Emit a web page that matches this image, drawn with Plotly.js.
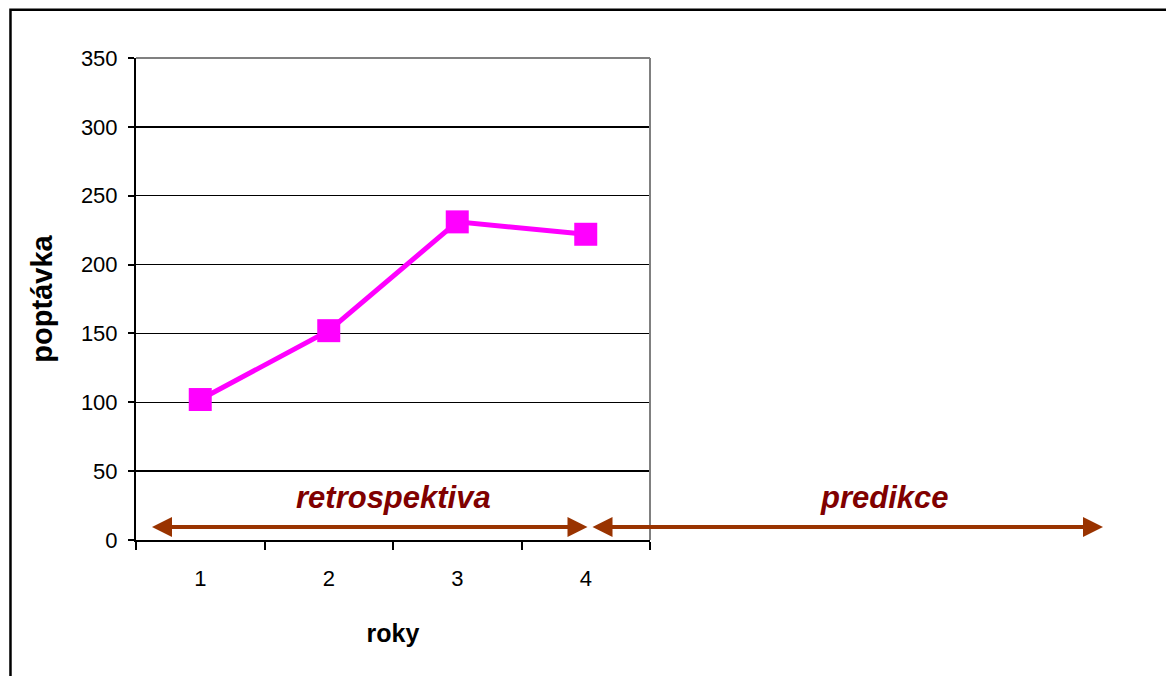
<!DOCTYPE html>
<html>
<head>
<meta charset="utf-8">
<script src="https://cdn.plot.ly/plotly-3.0.1.min.js"></script>
<style>html,body{margin:0;padding:0;background:#fff;}#chart{width:1166px;height:676px;}</style>
</head>
<body>
<div id="chart"></div>
<script>
// Data
const years = ['1', '2', '3', '4'];
const demand = [102, 152, 231, 222];
const yTickVals = [0, 50, 100, 150, 200, 250, 300, 350];
const xTitle = 'roky';
const yTitle = 'poptávka';
const retroLabel = 'retrospektiva';
const predLabel = 'predikce';

const FONT = 'Liberation Sans, Arial, sans-serif';
const arrowColor = '#993300';
const labelColor = '#800000';

const trace = {
  x: years,
  y: demand,
  type: 'scatter',
  mode: 'lines+markers',
  line: {color: '#FF00FF', width: 5},
  marker: {symbol: 'square', size: 23, color: '#FF00FF'},
  hoverinfo: 'x+y',
  showlegend: false
};

const layout = {
  width: 1166,
  height: 676,
  margin: {l: 136, r: 516, t: 58, b: 136},
  paper_bgcolor: '#ffffff',
  plot_bgcolor: '#ffffff',
  font: {family: FONT, color: '#000000', size: 22},
  showlegend: false,
  xaxis: {
    type: 'category',
    range: [-0.5, 3.5],
    tickson: 'boundaries',
    ticks: 'outside',
    ticklen: 8,
    tickwidth: 2,
    tickcolor: '#000000',
    showline: true,
    linecolor: '#000000',
    linewidth: 2,
    showgrid: false,
    zeroline: false,
    tickfont: {family: FONT, size: 22, color: '#000000'},
    ticklabelstandoff: 18,
    title: {text: xTitle, font: {family: FONT, size: 25, color: '#000000', weight: 'bold'}, standoff: 34}
  },
  yaxis: {
    range: [0, 350],
    tickvals: yTickVals,
    ticktext: yTickVals.map(String),
    ticks: 'outside',
    ticklen: 6,
    tickwidth: 2,
    tickcolor: '#000000',
    showline: true,
    linecolor: '#000000',
    linewidth: 2,
    showgrid: true,
    gridcolor: '#000000',
    gridwidth: 1.5,
    zeroline: false,
    tickfont: {family: FONT, size: 22, color: '#000000'},
    ticklabelstandoff: 6,
    title: {text: yTitle, font: {family: FONT, size: 29, color: '#000000', weight: 'bold'}, standoff: 20}
  },
  shapes: [
    // outer frame
    {type: 'rect', xref: 'paper', yref: 'paper', x0: -0.2442, x1: 2.03, y0: -0.31, y1: 1.1002,
     line: {color: '#000000', width: 2.5}, fillcolor: 'rgba(0,0,0,0)', layer: 'above'},
    // grey plot border top and right
    {type: 'line', xref: 'paper', yref: 'paper', x0: 0, x1: 1, y0: 1, y1: 1,
     line: {color: '#808080', width: 2}, layer: 'above'},
    {type: 'line', xref: 'paper', yref: 'paper', x0: 1, x1: 1, y0: 0, y1: 1,
     line: {color: '#808080', width: 2}, layer: 'above'}
  ],
  annotations: [
    {xref: 'paper', yref: 'paper', x: 0.0311, y: 0.027, ax: 437, ay: 0, axref: 'pixel', ayref: 'pixel',
     text: '', showarrow: true, arrowside: 'end+start', arrowhead: 2, arrowsize: 1, arrowwidth: 4,
     arrowcolor: arrowColor, standoff: 0, startstandoff: 0},
    {xref: 'paper', yref: 'paper', x: 1.8813, y: 0.027, ax: -512, ay: 0, axref: 'pixel', ayref: 'pixel',
     text: '', showarrow: true, arrowside: 'end+start', arrowhead: 2, arrowsize: 1, arrowwidth: 4,
     arrowcolor: arrowColor, standoff: 0, startstandoff: 0},
    {xref: 'paper', yref: 'paper', x: 0.5, y: 0.0892, xanchor: 'center', yanchor: 'middle',
     text: '<b><i>' + retroLabel + '</i></b>', showarrow: false,
     font: {family: FONT, size: 31, color: labelColor}},
    {xref: 'paper', yref: 'paper', x: 1.457, y: 0.0892, xanchor: 'center', yanchor: 'middle',
     text: '<b><i>' + predLabel + '</i></b>', showarrow: false,
     font: {family: FONT, size: 31, color: labelColor}}
  ]
};

Plotly.newPlot('chart', [trace], layout, {displayModeBar: false, staticPlot: true});
</script>
</body>
</html>
